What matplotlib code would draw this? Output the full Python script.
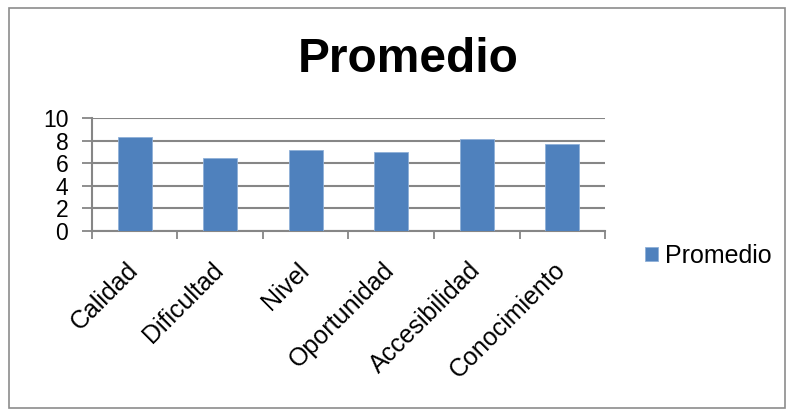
import matplotlib.pyplot as plt
from matplotlib.patches import Rectangle
from matplotlib.transforms import ScaledTranslation

plt.rcParams["font.family"] = ["Liberation Sans", "DejaVu Sans"]

categories = ["Calidad", "Dificultad", "Nivel", "Oportunidad", "Accesibilidad", "Conocimiento"]
promedio = [8.3, 6.5, 7.2, 7.0, 8.1, 7.7]
y_ticks = [0, 2, 4, 6, 8, 10]

bar_color = "#4F81BD"
grid_color = "#868686"

fig = plt.figure(figsize=(7.92, 4.17), dpi=100)
fig.patches.append(Rectangle((0.011, 0.022), 0.98, 0.958, transform=fig.transFigure,
                             fill=False, edgecolor="#8c8c8c", linewidth=1.2))

ax = fig.add_axes([0.116, 0.446, 0.648, 0.271])
x = list(range(len(categories)))
ax.bar(x, promedio, width=0.4, color=bar_color, edgecolor="#8fb0d8", linewidth=0.6,
       label="Promedio", zorder=3)

ax.set_xlim(-0.5, len(categories) - 0.5)
ax.set_ylim(0, 10)
ax.set_yticks(y_ticks)
ax.set_yticklabels([str(v) for v in y_ticks], fontsize=16.5)
ax.yaxis.grid(True, color=grid_color, linewidth=1.5, zorder=0)

# category labels sit under the bars, tick marks fall on the boundaries
ax.set_xticks(x)
ax.set_xticklabels(categories, rotation=45, ha="right", rotation_mode="anchor", fontsize=18)
ax.tick_params(axis="x", length=0, pad=18)
nudge = ScaledTranslation(-0.09, -0.02, fig.dpi_scale_trans)
for lbl in ax.get_xticklabels():
    lbl.set_transform(lbl.get_transform() + nudge)
ax.set_xticks([i - 0.5 for i in range(len(categories) + 1)], minor=True)
ax.tick_params(axis="x", which="minor", length=6, width=1.3, color=grid_color)
ax.tick_params(axis="y", length=7, width=1.3, color=grid_color, pad=10)

for side in ("top", "right"):
    ax.spines[side].set_visible(False)
for side in ("left", "bottom"):
    ax.spines[side].set_color(grid_color)
    ax.spines[side].set_linewidth(1.5)

fig.text(0.515, 0.857, "Promedio", ha="center", va="center", fontsize=34.5, fontweight="bold")

fig.legend(loc="center left", bbox_to_anchor=(0.815, 0.386), frameon=False, fontsize=18,
           handlelength=0.5, handleheight=0.5, handletextpad=0.3, borderaxespad=0,
           borderpad=0)

fig.savefig("out.png", dpi=100)
